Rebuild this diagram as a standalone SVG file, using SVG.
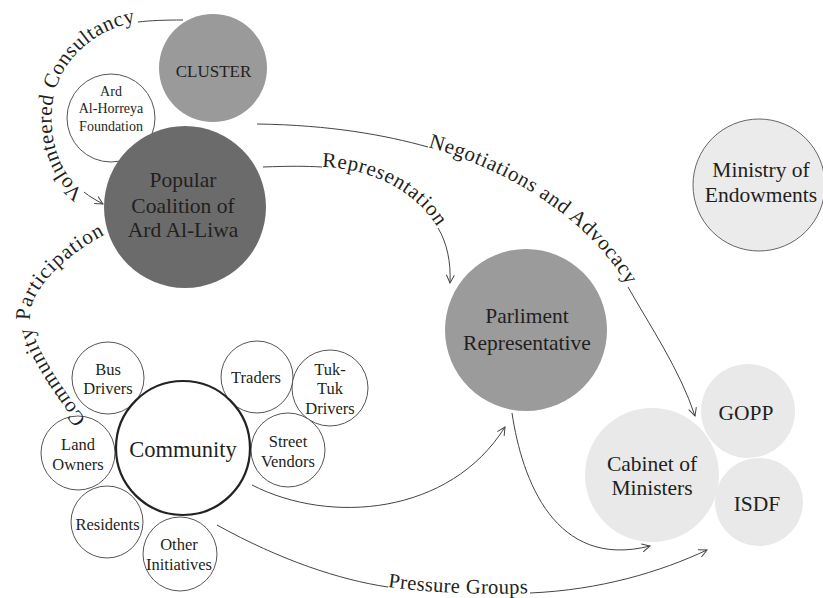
<svg xmlns="http://www.w3.org/2000/svg" width="823" height="598" viewBox="0 0 823 598" font-family="'Liberation Serif', 'DejaVu Serif', serif">
<style>
text{fill:#231f20;text-anchor:middle}
.big{font-size:21.5px}
.sm{font-size:16.5px}
.lbl{font-size:21px;text-anchor:start}
.edge{fill:none;stroke:#444;stroke-width:1}
.small{fill:#fff;stroke:#555;stroke-width:1}
.light{fill:#e9e9e9}
</style>
<defs>
<marker id="arr" markerUnits="userSpaceOnUse" markerWidth="12" markerHeight="12" refX="9" refY="5" orient="auto">
<path d="M1,1 L9,5 L1,9" fill="none" stroke="#444" stroke-width="1"/>
</marker>
<path id="tp-vc" d="M84,192 C55,170 48,130 53,100 C60,60 95,28 138,22"/>
<path id="tp-cp" d="M86,420 C60,385 32,345 30,318 C28,291 65,255 106,234"/>
<path id="tp-rep" d="M322,167 C370,168 415,190 438,228"/>
<path id="tp-neg" d="M428,147 C510,170 590,220 628,287"/>
<path id="tp-pg" d="M388,587 C430,593 490,595 530,593"/>
</defs>

<g id="node-ard-horreya">
<circle class="small" cx="111" cy="118" r="44"/>
<text style="font-size:14px" x="111" y="95.5">Ard</text>
<text style="font-size:14px" x="111" y="113">Al-Horreya</text>
<text style="font-size:14px" x="111" y="130.5">Foundation</text>
</g>
<g id="node-cluster">
<circle cx="213" cy="68" r="54" fill="#9a9a9a"/>
<text style="font-size:17px" x="213.5" y="77">CLUSTER</text>
</g>
<g id="node-coalition">
<circle cx="185" cy="207" r="81" fill="#6b6b6b"/>
<text class="big" x="183" y="187">Popular</text>
<text class="big" x="183" y="213">Coalition of</text>
<text class="big" x="183" y="237">Ard Al-Liwa</text>
</g>
<g id="node-parliment">
<circle cx="526" cy="330" r="81" fill="#9b9b9b"/>
<text class="big" x="527" y="323">Parliment</text>
<text class="big" x="527" y="350">Representative</text>
</g>
<g id="node-endowments">
<circle cx="759" cy="185" r="66" fill="#ebebeb" stroke="#666" stroke-width="1"/>
<text class="big" x="761" y="177">Ministry of</text>
<text class="big" x="761" y="202">Endowments</text>
</g>
<g id="node-gopp">
<circle class="light" cx="748" cy="411" r="47"/>
<text class="big" x="746" y="420">GOPP</text>
</g>
<g id="node-isdf">
<circle class="light" cx="759" cy="502" r="44"/>
<text class="big" x="757" y="511">ISDF</text>
</g>
<g id="node-cabinet">
<circle class="light" cx="652" cy="475" r="67"/>
<text class="big" x="652" y="471">Cabinet of</text>
<text class="big" x="652" y="495">Ministers</text>
</g>

<g id="node-bus-drivers">
<circle class="small" cx="108" cy="378" r="36"/>
<text class="sm" x="108" y="375">Bus</text>
<text class="sm" x="108" y="394">Drivers</text>
</g>
<g id="node-land-owners">
<circle class="small" cx="78" cy="453" r="37"/>
<text class="sm" x="78" y="450">Land</text>
<text class="sm" x="78" y="470">Owners</text>
</g>
<g id="node-residents">
<circle class="small" cx="107" cy="522" r="36"/>
<text class="sm" x="107.5" y="530">Residents</text>
</g>
<g id="node-other-initiatives">
<circle class="small" cx="180" cy="554" r="37"/>
<text class="sm" x="179" y="550">Other</text>
<text class="sm" x="179" y="570">Initiatives</text>
</g>
<g id="node-traders">
<circle class="small" cx="257" cy="377" r="36"/>
<text class="sm" x="256" y="383">Traders</text>
</g>
<g id="node-tuktuk">
<circle class="small" cx="330" cy="388" r="38"/>
<text class="sm" x="330" y="375">Tuk-</text>
<text class="sm" x="330" y="394">Tuk</text>
<text class="sm" x="330" y="414">Drivers</text>
</g>
<g id="node-street-vendors">
<circle class="small" cx="288" cy="450" r="37"/>
<text class="sm" x="288" y="447">Street</text>
<text class="sm" x="288" y="467">Vendors</text>
</g>
<g id="node-community">
<circle cx="183" cy="448" r="67" fill="#fff" stroke="#222" stroke-width="2.2"/>
<text style="font-size:22.5px" x="183" y="457">Community</text>
</g>

<g id="connectors">
<path class="edge" d="M183,20 C165,20 150,20.5 138,22"/>
<path class="edge" d="M84,192 C90,197 96,200 103,204" marker-end="url(#arr)"/>
<path class="edge" d="M263,167 C290,166 305,166 322,167"/>
<path class="edge" d="M438,228 C447,243 451,262 450,283" marker-end="url(#arr)"/>
<path class="edge" d="M257,124 C330,125 385,135 428,147"/>
<path class="edge" d="M628,287 C650,326 680,370 695,416" marker-end="url(#arr)"/>
<path class="edge" d="M252,485 C330,525 450,515 505,427" marker-end="url(#arr)"/>
<path class="edge" d="M512,413 C522,480 555,570 650,546" marker-end="url(#arr)"/>
<path class="edge" d="M217,525 C280,560 340,580 388,587"/>
<path class="edge" d="M530,593 C600,590 660,572 707,550" marker-end="url(#arr)"/>
</g>
<g id="connector-labels">
<text class="lbl"><textPath href="#tp-vc" textLength="222" lengthAdjust="spacing">Volunteered Consultancy</textPath></text>
<text class="lbl"><textPath href="#tp-cp" textLength="234" lengthAdjust="spacing">Community Participation</textPath></text>
<text class="lbl"><textPath href="#tp-rep" textLength="135" lengthAdjust="spacing">Representation</textPath></text>
<text class="lbl"><textPath href="#tp-neg" textLength="248" lengthAdjust="spacing">Negotiations and Advocacy</textPath></text>
<text class="lbl" style="font-size:20.5px"><textPath href="#tp-pg" textLength="140" lengthAdjust="spacing">Pressure Groups</textPath></text>
</g>
</svg>
